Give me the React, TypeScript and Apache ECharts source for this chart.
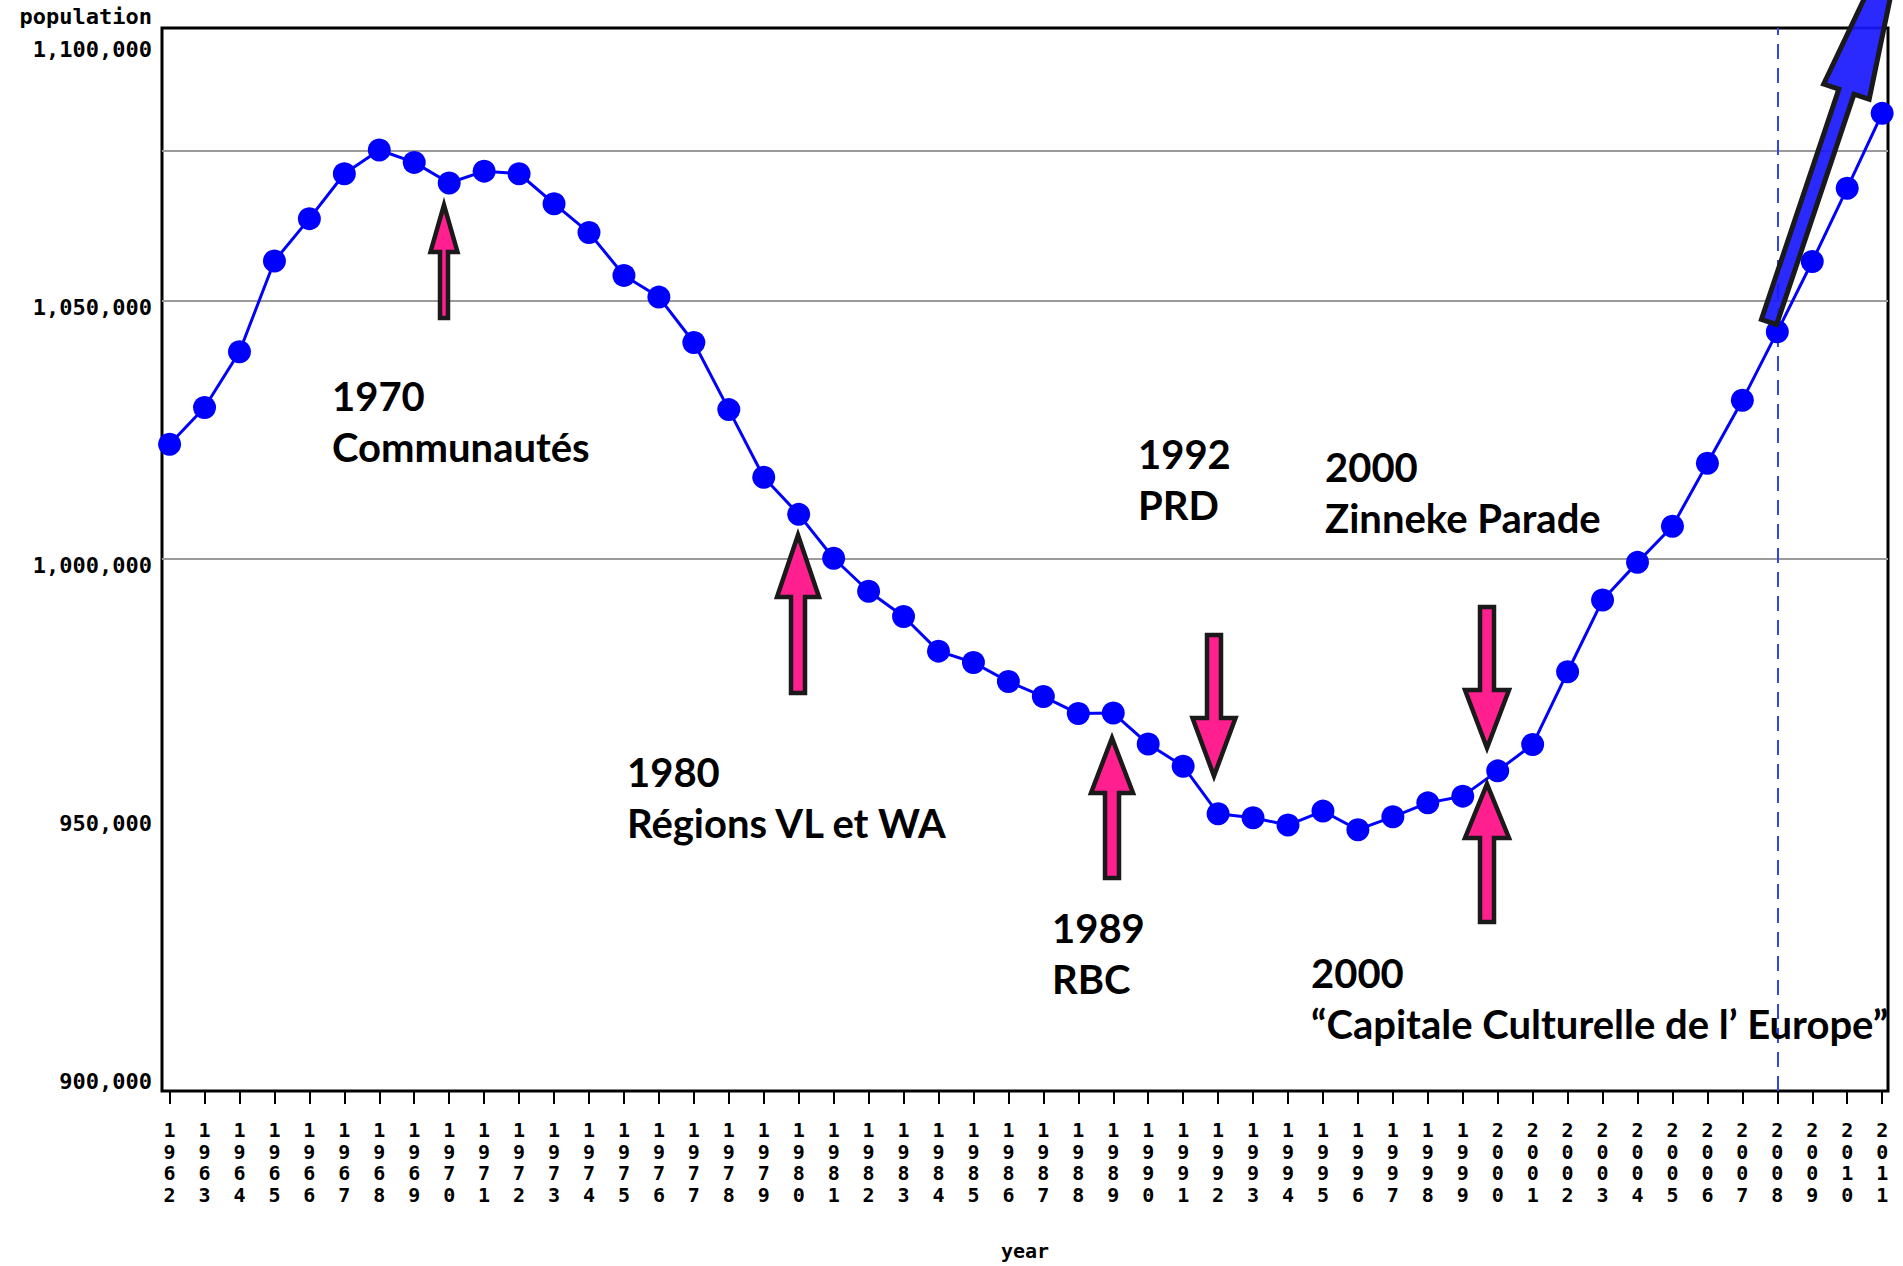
import { useEffect, useRef } from "react";
import * as echarts from "echarts";

// ---- Data ----
const years = [
  1962, 1963, 1964, 1965, 1966, 1967, 1968, 1969, 1970, 1971,
  1972, 1973, 1974, 1975, 1976, 1977, 1978, 1979, 1980, 1981,
  1982, 1983, 1984, 1985, 1986, 1987, 1988, 1989, 1990, 1991,
  1992, 1993, 1994, 1995, 1996, 1997, 1998, 1999, 2000, 2001,
  2002, 2003, 2004, 2005, 2006, 2007, 2008, 2009, 2010, 2011,
];

const population = [
  1022200, 1029300, 1040100, 1057700, 1065900, 1074600, 1079200, 1076800, 1072800, 1075100,
  1074600, 1068800, 1063200, 1054900, 1050700, 1041900, 1028900, 1015800, 1008600, 1000100,
  993700, 988800, 982100, 979900, 976200, 973300, 970000, 970100, 964100, 959800,
  950600, 949800, 948400, 951100, 947500, 950000, 952700, 954000, 958900, 964000,
  978100, 992000, 999300, 1006300, 1018500, 1030700, 1044000, 1057600, 1071800, 1086300,
];

const yTickValues = [900000, 950000, 1000000, 1050000, 1100000];
const referenceLines = [1000000, 1050000, 1079000];
const projectionYear = 2008;

const note1970 = "1970\nCommunautés";
const note1980 = "1980\nRégions VL et WA";
const note1989 = "1989\nRBC";
const note1992 = "1992\nPRD";
const note2000a = "2000\nZinneke Parade";
const note2000b = "2000\n\u201CCapitale Culturelle de l\u2019 Europe\u201D";

// ---- helpers for annotation shapes ----
function vArrow(cx: number, tipY: number, baseY: number, endY: number, headHalf: number, shaftHalf: number) {
  return [
    [cx, tipY],
    [cx + headHalf, baseY],
    [cx + shaftHalf, baseY],
    [cx + shaftHalf, endY],
    [cx - shaftHalf, endY],
    [cx - shaftHalf, baseY],
    [cx - headHalf, baseY],
  ];
}

function slantArrow(tx: number, ty: number, ux: number, uy: number, shaftLen: number, headLen: number, shaftHalf: number, headHalf: number) {
  const len = Math.hypot(ux, uy);
  const dx = ux / len;
  const dy = uy / len;
  const nx = -dy;
  const ny = dx;
  const bx = tx + dx * shaftLen;
  const by = ty + dy * shaftLen;
  return [
    [tx - nx * shaftHalf, ty - ny * shaftHalf],
    [tx + nx * shaftHalf, ty + ny * shaftHalf],
    [bx + nx * shaftHalf, by + ny * shaftHalf],
    [bx + nx * headHalf, by + ny * headHalf],
    [bx + dx * headLen, by + dy * headLen],
    [bx - nx * headHalf, by - ny * headHalf],
    [bx - nx * shaftHalf, by - ny * shaftHalf],
  ];
}

const axisFont = "DejaVu Sans Mono";
const noteFont = "Lato";
const pink = "#ff1f8e";
const outline = "#1a1a1a";

function pinkArrow(points: number[][]) {
  return {
    type: "polygon",
    z: 50,
    shape: { points },
    style: { fill: pink, stroke: outline, lineWidth: 4.5, lineJoin: "miter" },
    silent: true,
  };
}

function note(text: string, x: number, y: number) {
  return {
    type: "text",
    z: 60,
    x,
    y,
    style: {
      text,
      fontFamily: noteFont,
      fontWeight: "bold",
      fontSize: 40,
      lineHeight: 51,
      fill: "#000000",
      align: "left",
      verticalAlign: "top",
    },
    silent: true,
  };
}

export default function App() {
  const ref = useRef<HTMLDivElement>(null);

  useEffect(() => {
    const el = ref.current;
    if (!el) return;
    const chart = echarts.init(el, null, { renderer: "svg" });

    const markData: any[] = referenceLines.map((v) => ({
      yAxis: v,
      lineStyle: { color: "#9a9a9a", width: 2, type: "solid" },
    }));
    markData.push({
      xAxis: projectionYear,
      lineStyle: { color: "#3344ee", width: 2, type: [15, 9] },
    });

    const option: any = {
      animation: false,
      backgroundColor: "#ffffff",
      grid: {
        left: 162,
        top: 28,
        right: 15,
        bottom: 158.5,
        show: true,
        borderColor: "#000000",
        borderWidth: 3,
        backgroundColor: "transparent",
      },
      xAxis: {
        type: "value",
        min: 1961.783,
        max: 2011.167,
        name: "year",
        nameLocation: "middle",
        nameGap: 150,
        nameTextStyle: { fontFamily: axisFont, fontWeight: "bold", fontSize: 20, color: "#000" },
        axisLine: { show: false },
        splitLine: { show: false },
        axisTick: {
          show: true,
          customValues: years,
          length: 13,
          lineStyle: { color: "#000", width: 2 },
        },
        axisLabel: {
          customValues: years,
          margin: 28.5,
          formatter: (v: number) => String(Math.round(v)).split("").join("\n"),
          fontFamily: axisFont,
          fontWeight: "bold",
          fontSize: 20,
          lineHeight: 21.5,
          color: "#000",
        },
      },
      yAxis: {
        type: "value",
        min: 896870,
        max: 1102840,
        name: "population",
        nameLocation: "end",
        nameGap: 12,
        nameTextStyle: {
          fontFamily: axisFont,
          fontWeight: "bold",
          fontSize: 22,
          color: "#000",
          align: "right",
          verticalAlign: "middle",
          padding: [0, 10, 0, 0],
        },
        axisLine: { show: false },
        axisTick: { show: false },
        splitLine: { show: false },
        axisLabel: {
          customValues: yTickValues,
          margin: 10,
          verticalAlign: "top",
          lineHeight: 13,
          formatter: (v: number) => Math.round(v).toLocaleString("en-US"),
          fontFamily: axisFont,
          fontWeight: "bold",
          fontSize: 22,
          color: "#000",
        },
      },
      series: [
        {
          type: "line",
          name: "population",
          z: 3,
          data: years.map((y, i) => [y, population[i]]),
          symbol: "circle",
          symbolSize: 23,
          lineStyle: { color: "#0000ff", width: 3 },
          itemStyle: { color: "#0000ff" },
          markLine: {
            silent: true,
            z: 1,
            symbol: ["none", "none"],
            label: { show: false },
            emphasis: { disabled: true },
            data: markData,
          },
        },
      ],
      graphic: [
        pinkArrow(vArrow(444, 205, 252, 318, 13.5, 4)),
        pinkArrow(vArrow(798, 535, 597, 693, 21, 7)),
        pinkArrow(vArrow(1112, 738, 793, 878, 21, 7)),
        pinkArrow(vArrow(1214, 776, 718, 635, 21.5, 7)),
        pinkArrow(vArrow(1487, 748, 690, 607, 22, 7)),
        pinkArrow(vArrow(1487, 784, 838, 922, 22, 7)),
        {
          type: "polygon",
          z: 55,
          shape: { points: slantArrow(1769, 322, 0.3187, -0.9479, 243, 200, 8, 24) },
          style: { fill: "rgba(24,24,255,0.92)", stroke: outline, lineWidth: 5, lineJoin: "miter" },
          silent: true,
        },
        note(note1970, 332, 370.5),
        note(note1980, 627, 746),
        note(note1992, 1138, 428),
        note(note2000a, 1325, 441.5),
        note(note1989, 1052, 902.5),
        note(note2000b, 1311, 947),
      ],
    };

    chart.setOption(option);
    return () => chart.dispose();
  }, []);

  return (
    <div
      ref={ref}
      style={{ position: "absolute", left: 0, top: 0, width: 1903, height: 1266, background: "#ffffff" }}
    />
  );
}
